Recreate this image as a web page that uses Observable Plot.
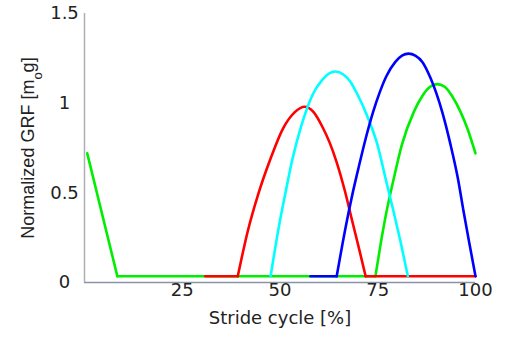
<!DOCTYPE html>
<html>
<head>
<meta charset="utf-8">
<script src="https://cdn.jsdelivr.net/npm/d3@7"></script>
<script src="https://cdn.jsdelivr.net/npm/@observablehq/plot@0.6"></script>
<style>
  body { margin: 0; background: #fff; }
  #chart { width: 510px; height: 339px; overflow: hidden; }
  #chart svg { display: block; }
</style>
</head>
<body>
<div id="chart"></div>
<script>
// ---- data ----
const xTicks = [25, 50, 75, 100];
const yTicks = [0, 0.5, 1, 1.5];
const xLabel = "Stride cycle [%]";
const yLabelParts = ["Normalized GRF [m", "o", "g]"];

// green (drawn first)
const greenDropX = [0.7, 8.4];
const greenDropY = [0.72, 0.035];
const greenFlatX = [8.4, 74.4];
const greenFlatY = [0.035, 0.035];
const greenBumpX = [74.4, 75.7, 77.2, 79.1, 81.2, 84.2, 86.4, 88.3, 90.2, 92.2, 94.0, 96.2, 97.9, 100];
const greenBumpY = [0.035, 0.21, 0.39, 0.58, 0.77, 0.95, 1.04, 1.09, 1.106, 1.09, 1.04, 0.95, 0.86, 0.72];

// red
const redFlat1X = [30.9, 39.2];
const redFlat1Y = [0.035, 0.035];
const redBumpX = [39.2, 41.8, 44.4, 47.4, 50.8, 53.8, 56.3, 58.6, 60.8, 62.7, 64.5, 66.6, 68.5, 70.2, 71.9];
const redBumpY = [0.035, 0.29, 0.49, 0.68, 0.86, 0.95, 0.98, 0.95, 0.87, 0.78, 0.67, 0.51, 0.34, 0.19, 0.035];
const redFlat2X = [71.9, 100];
const redFlat2Y = [0.035, 0.035];

// cyan
const cyanBumpX = [47.6, 49.7, 51.4, 53.1, 55.4, 58.4, 60.8, 62.5, 64.2, 66.2, 68.0, 70.0, 71.9, 74.9, 77.0, 79.1, 81.0, 82.7];
const cyanBumpY = [0.035, 0.31, 0.50, 0.68, 0.87, 1.05, 1.13, 1.165, 1.177, 1.16, 1.12, 1.04, 0.95, 0.77, 0.58, 0.39, 0.21, 0.035];

// blue
const blueFlatX = [57.8, 64.5];
const blueFlatY = [0.035, 0.035];
const blueBumpX = [64.5, 66.8, 68.5, 70.2, 72.0, 73.8, 75.5, 77.2, 79.5, 81.2, 82.9, 84.6, 86.4, 88.5, 91.5, 93.6, 95.5, 97.0, 98.5, 100];
const blueBumpY = [0.035, 0.31, 0.49, 0.65, 0.81, 0.95, 1.06, 1.15, 1.23, 1.265, 1.276, 1.265, 1.23, 1.14, 0.95, 0.77, 0.58, 0.39, 0.21, 0.035];

// ---- build tables ----
const rows = (xs, ys) => xs.map((x, i) => ({x, y: ys[i]}));
const segs = [
  {color: "#00ee00", data: rows(greenDropX, greenDropY), curve: "linear"},
  {color: "#00ee00", data: rows(greenFlatX, greenFlatY), curve: "linear"},
  {color: "#00ee00", data: rows(greenBumpX, greenBumpY), curve: "monotone-x"},
  {color: "#ff0000", data: rows(redFlat1X, redFlat1Y), curve: "linear"},
  {color: "#ff0000", data: rows(redBumpX, redBumpY), curve: "monotone-x"},
  {color: "#ff0000", data: rows(redFlat2X, redFlat2Y), curve: "linear"},
  {color: "#00ffff", data: rows(cyanBumpX, cyanBumpY), curve: "monotone-x"},
  {color: "#0000ff", data: rows(blueFlatX, blueFlatY), curve: "linear"},
  {color: "#0000ff", data: rows(blueBumpX, blueBumpY), curve: "monotone-x"}
];

const svg = Plot.plot({
  width: 510,
  height: 339,
  marginLeft: 84,
  marginRight: 35,
  marginTop: 13,
  marginBottom: 57,
  x: {domain: [0, 100]},
  y: {domain: [0, 1.5]},
  style: {fontFamily: "'DejaVu Sans', sans-serif", fontSize: "18px", color: "#222", background: "#fff"},
  marks: [
    Plot.ruleY([0], {stroke: "#8a93a6", strokeWidth: 1.5}),
    Plot.ruleX([0], {y1: 0, y2: 1.5, stroke: "#b0b0b0", strokeWidth: 1.5}),
    Plot.axisX({ticks: xTicks, tickSize: 0, tickPadding: 1, label: null, tickFormat: d => String(d)}),
    Plot.axisY({ticks: yTicks, tickSize: 0, tickPadding: 20, textAnchor: "middle", label: null, tickFormat: d => String(d)}),
    ...segs.map(s => Plot.line(s.data, {x: "x", y: "y", stroke: s.color, strokeWidth: 2.6, curve: s.curve})),
    Plot.text([xLabel], {frameAnchor: "bottom", dy: 41, fill: "#222", fontSize: 18})
  ]
});
document.getElementById("chart").appendChild(svg);

// y-axis title with subscript
const t = d3.select(svg).append("text")
  .attr("transform", "translate(34,148) rotate(-90)")
  .attr("text-anchor", "middle")
  .attr("fill", "#222")
  .style("font-family", "'Liberation Sans', Arial, sans-serif")
  .style("font-size", "18px");
t.append("tspan").text(yLabelParts[0]);
t.append("tspan").attr("baseline-shift", "sub").style("font-size", "13px").text(yLabelParts[1]);
t.append("tspan").text(yLabelParts[2]);
</script>
</body>
</html>
